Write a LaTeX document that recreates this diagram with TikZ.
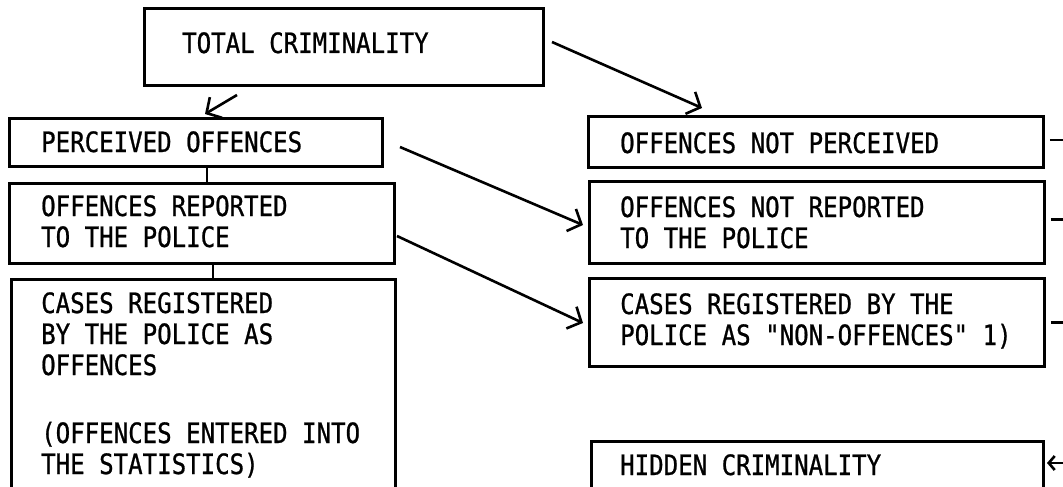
\documentclass[tikz,border=0pt]{standalone}
\usepackage{fontspec}
\newfontfamily\monofnt[FakeStretch=0.86,FakeBold=0.8]{DejaVu Sans Mono}
\usetikzlibrary{arrows.meta}
\begin{document}
\begin{tikzpicture}[x=1pt,y=-1pt,
  box/.style={draw, line width=2.8pt, inner sep=0pt, anchor=north west},
  txt/.style={anchor=base west, inner sep=0pt, align=left, font=\monofnt\fontsize{28}{31}\selectfont},
  conn/.style={line width=2.6pt},
  arr/.style={line width=2.6pt, -{Straight Barb[length=11pt,width=24pt,line width=2.6pt]}},
  sarr/.style={line width=2.6pt, -{Straight Barb[length=6pt,width=14pt,line width=2.6pt]}}]
\useasboundingbox (0,0) rectangle (1063,487);
\clip (0,0) rectangle (1063,487);
\fill[white] (0,0) rectangle (1063,487);

% boxes
\node[box, minimum width=399pt, minimum height=77pt] (tot) at (143,7) {};
\node[box, minimum width=373pt, minimum height=48pt] (per) at (8,117) {};
\node[box, minimum width=385pt, minimum height=80pt] (rep) at (8,182) {};
\node[box, minimum width=384pt, minimum height=230pt] (cas) at (10,278) {};
\node[box, minimum width=455pt, minimum height=51pt] (notper) at (587,115) {};
\node[box, minimum width=455pt, minimum height=82pt] (notrep) at (588,180) {};
\node[box, minimum width=455pt, minimum height=88pt] (nonoff) at (588,277) {};
\node[box, minimum width=452pt, minimum height=70pt] (hid) at (590,440) {};

% texts (anchor = baseline of the last line)
\node[txt] (totT) at (182,53) {TOTAL CRIMINALITY};
\node[txt] (perT) at (41,152) {PERCEIVED OFFENCES};
\node[txt] (repT) at (41,247) {OFFENCES REPORTED\\TO THE POLICE};
\node[txt] (casT) at (41,474) {CASES REGISTERED\\BY THE POLICE AS\\OFFENCES\\[37pt](OFFENCES ENTERED INTO\\THE STATISTICS)};
\node[txt] (notperT) at (620,153) {OFFENCES NOT PERCEIVED};
\node[txt] (notrepT) at (620,248) {OFFENCES NOT REPORTED\\TO THE POLICE};
\node[txt] (nonoffT) at (620,345) {CASES REGISTERED BY THE\\POLICE AS "NON-OFFENCES" 1)};
\node[txt] (hidT) at (620,475) {HIDDEN CRIMINALITY};

% vertical links
\draw[conn] (207,0 |- per.south) -- (207,0 |- rep.north);
\draw[conn] (213,0 |- rep.south) -- (213,0 |- cas.north);

% arrows
\coordinate (a1s) at (237,95);  \coordinate (a1e) at (205,114);
\coordinate (a2s) at (552,42);  \coordinate (a2e) at (702,108);
\coordinate (a3s) at (400,147); \coordinate (a3e) at (583,225);
\coordinate (a4s) at (397,236); \coordinate (a4e) at (583,323);
\draw[arr] (a1s) -- (a1e);
\draw[arr] (a2s) -- (a2e);
\draw[arr] (a3s) -- (a3e);
\draw[arr] (a4s) -- (a4e);

% right-hand stubs
\draw[conn] ([xshift=5pt,yshift=2pt]notper.east) -- ++(25,0);
\draw[conn] ([xshift=5pt,yshift=3pt]notrep.east) -- ++(25,0);
\draw[conn] ([xshift=5pt]nonoff.east) -- ++(25,0);
\coordinate (hin) at (1070,463);
\draw[sarr] (hin) -- (1047,463);
\end{tikzpicture}
\end{document}
